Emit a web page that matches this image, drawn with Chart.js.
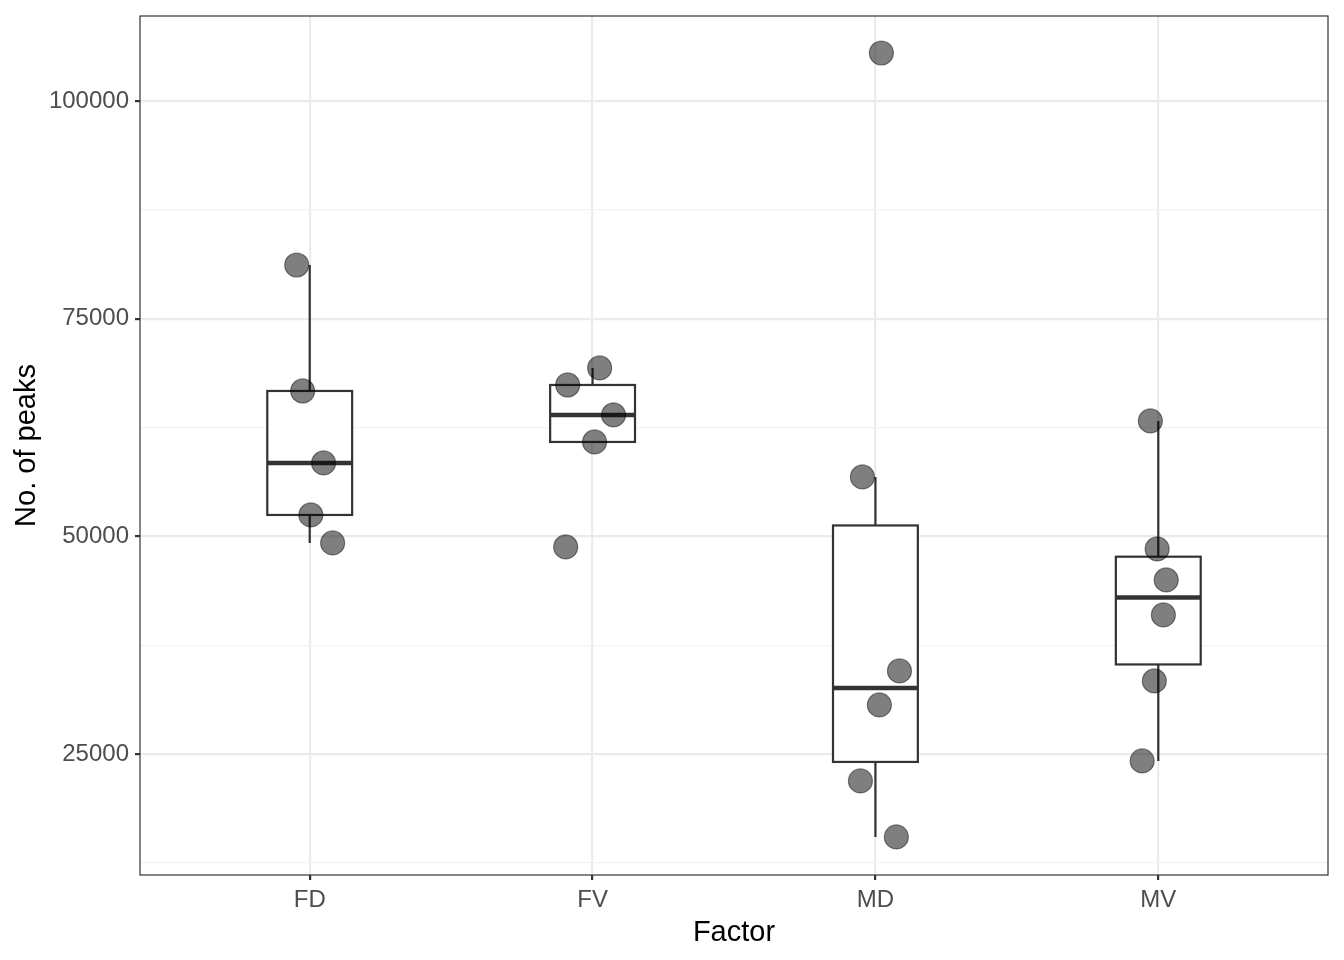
<!DOCTYPE html>
<html>
<head>
<meta charset="utf-8">
<script src="https://cdn.jsdelivr.net/npm/chart.js@4/dist/chart.umd.min.js"></script>
<style>
  body { margin: 0; background: #fff; }
  #wrap { width: 1344px; height: 960px; }
</style>
</head>
<body>
<div id="wrap"><canvas id="myChart" width="1344" height="960"></canvas></div>
<script>
// categories and peak counts
var categories = ["FD", "FV", "MD", "MV"];
var fdPeaks = [81166, 66696, 58428, 52456, 49241];
var fvPeaks = [69338, 67385, 63940, 60840, 48781];
var mdPeaks = [105512, 56820, 34541, 30637, 21909, 15478];
var mvPeaks = [63251, 48552, 44992, 40972, 33393, 24206];
// horizontal jitter of each point (category units)
var fdJitter = [-0.046, -0.025, 0.049, 0.004, 0.081];
var fvJitter = [0.025, -0.088, 0.074, 0.007, -0.095];
var mdJitter = [0.021, -0.046, 0.085, 0.014, -0.053, 0.074];
var mvJitter = [-0.028, -0.004, 0.028, 0.018, -0.014, -0.057];
var yTicks = [12500, 25000, 37500, 50000, 62500, 75000, 87500, 100000];

var groups = [fdPeaks, fvPeaks, mdPeaks, mvPeaks];
var jitters = [fdJitter, fvJitter, mdJitter, mvJitter];

function quantile(sorted, p) {
    var h = (sorted.length - 1) * p;
    var lo = Math.floor(h);
    var hi = Math.ceil(h);
    return sorted[lo] + (h - lo) * (sorted[hi] - sorted[lo]);
}

function boxStats(vals) {
    var s = vals.slice().sort(function(a, b){ return a - b; });
    var q1 = quantile(s, 0.25), med = quantile(s, 0.5), q3 = quantile(s, 0.75);
    var iqr = q3 - q1;
    var inside = s.filter(function(v){ return v >= q1 - 1.5 * iqr && v <= q3 + 1.5 * iqr; });
    return { q1: q1, med: med, q3: q3, lo: inside[0], hi: inside[inside.length - 1] };
}

var points = [];
groups.forEach(function(vals, i){
    vals.forEach(function(v, j){
        points.push({ x: i + 1 + jitters[i][j], y: v });
    });
});

// box + whiskers drawn under the points
var boxPlugin = {
    id: 'boxes',
    beforeDatasetsDraw: function(chart) {
        var c = chart.ctx, xs = chart.scales.x, ys = chart.scales.y;
        c.save();
        c.strokeStyle = '#333333';
        c.lineCap = 'butt';
        groups.forEach(function(vals, i){
            var st = boxStats(vals);
            var xc = xs.getPixelForValue(i + 1);
            var xl = xs.getPixelForValue(i + 1 - 0.15);
            var xr = xs.getPixelForValue(i + 1 + 0.15);
            var yq1 = ys.getPixelForValue(st.q1), yq3 = ys.getPixelForValue(st.q3);
            c.lineWidth = 2.2;
            c.beginPath();
            c.moveTo(xc, ys.getPixelForValue(st.hi)); c.lineTo(xc, yq3);
            c.moveTo(xc, yq1); c.lineTo(xc, ys.getPixelForValue(st.lo));
            c.stroke();
            c.fillStyle = '#ffffff';
            c.fillRect(xl, yq3, xr - xl, yq1 - yq3);
            c.strokeRect(xl, yq3, xr - xl, yq1 - yq3);
            c.lineWidth = 4.5;
            c.beginPath();
            var ym = ys.getPixelForValue(st.med);
            c.moveTo(xl, ym); c.lineTo(xr, ym);
            c.stroke();
        });
        c.restore();
    },
    afterDraw: function(chart) {
        var a = chart.chartArea, c = chart.ctx;
        c.save();
        c.strokeStyle = '#333333';
        c.lineWidth = 1.2;
        c.strokeRect(a.left, a.top, a.right - a.left, a.bottom - a.top);
        c.restore();
    }
};

var ctx = document.getElementById("myChart").getContext("2d");
var myChart = new Chart(ctx, {
    type: 'scatter',
    data: {
        datasets: [{
            label: 'peaks',
            data: points,
            backgroundColor: 'rgba(0,0,0,0.5)',
            borderColor: 'rgba(0,0,0,0.45)',
            borderWidth: 1.2,
            pointRadius: 12,
            pointHoverRadius: 12
        }]
    },
    options: {
        responsive: false,
        animation: false,
        layout: { padding: { top: 16, right: 16, left: 0, bottom: 0 } },
        plugins: { legend: { display: false }, tooltip: { enabled: false } },
        scales: {
            x: {
                type: 'linear',
                min: 0.4,
                max: 4.6,
                afterBuildTicks: function(scale) {
                    scale.ticks = categories.map(function(c, i){ return { value: i + 1 }; });
                },
                afterFit: function(scale) {
                    scale.height = 85;
                    scale.paddingLeft = 0; scale.paddingRight = 0;
                },
                grid: { color: '#ebebeb', lineWidth: 2.2, tickColor: '#333333', tickLength: 5 },
                border: { display: false },
                ticks: {
                    font: { family: 'Liberation Sans', size: 24 },
                    color: '#4d4d4d',
                    padding: 6,
                    callback: function(v) { return categories[v - 1]; }
                },
                title: {
                    display: true, text: 'Factor', color: '#000',
                    font: { family: 'Liberation Sans', size: 29 },
                    padding: { top: 0, bottom: 10 }
                }
            },
            y: {
                min: 11105,
                max: 109761,
                afterBuildTicks: function(scale) {
                    scale.ticks = yTicks.map(function(v){ return { value: v }; });
                },
                afterFit: function(scale) {
                    scale.width = 140;
                    scale.paddingTop = 0; scale.paddingBottom = 0;
                },
                grid: {
                    color: function(c) { return c.tick && c.tick.value % 25000 === 0 ? '#ebebeb' : '#f2f2f2'; },
                    lineWidth: function(c) { return c.tick && c.tick.value % 25000 === 0 ? 2.2 : 1.2; },
                    tickColor: function(c) { return c.tick && c.tick.value % 25000 === 0 ? '#333333' : 'rgba(0,0,0,0)'; },
                    tickLength: 5
                },
                border: { display: false },
                ticks: {
                    font: { family: 'Liberation Sans', size: 24 },
                    color: '#4d4d4d',
                    padding: 6,
                    callback: function(v) { return v % 25000 === 0 ? String(v) : ''; }
                },
                title: {
                    display: true, text: 'No. of peaks', color: '#000',
                    font: { family: 'Liberation Sans', size: 29 },
                    padding: { top: 10, bottom: 0 }
                }
            }
        }
    },
    plugins: [boxPlugin]
});
</script>
</body>
</html>
